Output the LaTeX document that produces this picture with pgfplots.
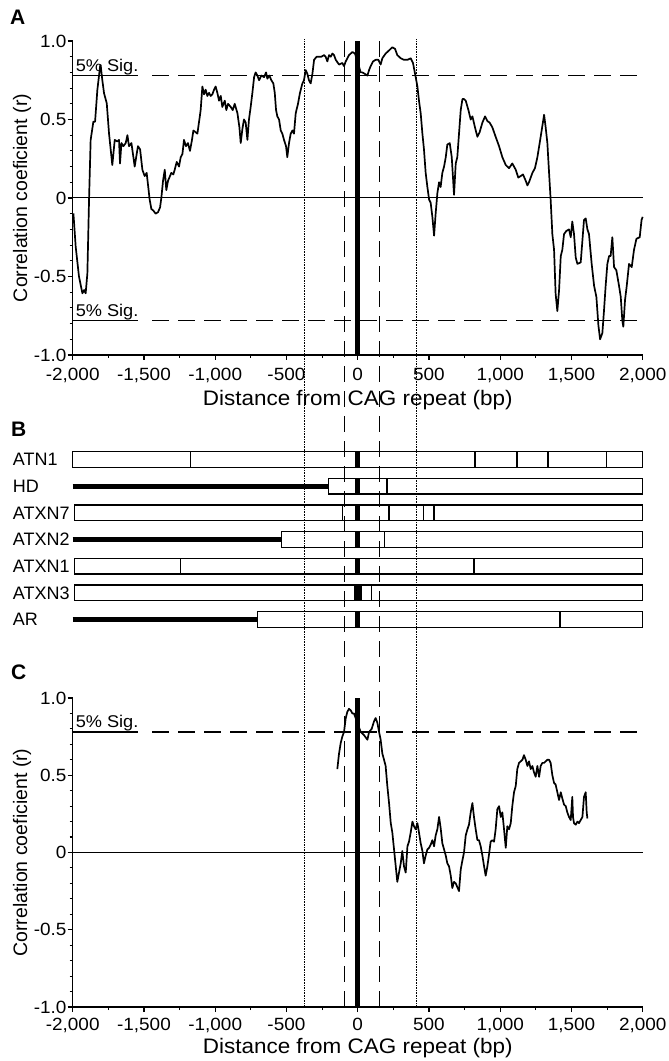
\documentclass[border=0pt]{standalone}
\usepackage{fontspec}
\setmainfont{Liberation Sans}
\newfontfamily\hfont{Liberation Sans}[FakeStretch=1.07]
\usepackage{pgfplots}
\pgfplotsset{compat=1.18}
\tikzset{siglab/.style={anchor=base west, inner sep=0pt, font=\hfont\fontsize{17}{17}\selectfont, yshift=4pt}}
\begin{document}
\begin{tikzpicture}[x=1pt,y=1pt]
\useasboundingbox (0pt,0pt) rectangle (669pt,1061pt);
\pgfplotsset{
  corr/.style={
    width=570pt, scale only axis, xmin=-2000, xmax=2000, ymin=-1, ymax=1,
    axis x line*=bottom, axis y line*=left, clip=false,
    xtick={-2000,-1500,...,2000},
    xticklabels={{-2,000},{-1,500},{-1,000},{-500},{0},{500},{1,000},{1,500},{2,000}},
    ytick={-1,-0.5,0,0.5,1}, yticklabels={{-1.0},{-0.5},{0},{0.5},{1.0}},
    minor x tick num=1, minor y tick num=4,
    tick align=outside, major tick length=5pt, minor tick length=3pt,
    every tick/.style={line width=1.1pt, black},
    axis line style={line width=1.3pt},
    ticklabel style={font=\hfont\fontsize{17.7}{17.7}\selectfont, inner sep=1pt},
    xlabel style={font=\hfont\fontsize{21}{21}\selectfont},
    ylabel style={font=\fontsize{19.5}{19.5}\selectfont},
    xlabel={Distance from CAG repeat (bp)},
    ylabel={Correlation coeficient (r)},
    ylabel style={at={(axis description cs:-0.089,0.5)}, anchor=center},
  },
  sig/.style={line width=1.2pt, dash pattern=on 17pt off 9pt},
  curve/.style={line width=1.7pt, black, line join=round},
  box/.style={line width=1.3pt, black},
}

% ---------------- Panel A ----------------
\begin{axis}[corr, at={(72.7pt,706pt)}, anchor=south west, height=314pt,
  xticklabel style={yshift=-6.5pt},
  xlabel style={at={(axis description cs:0.5,-0.143)}, anchor=center}]
\addplot[line width=1pt] coordinates {(-2000,0) (2000,0)};
\addplot[line width=1.2pt] coordinates {(-2000,0.78) (-1540,0.78)};
\addplot[sig] coordinates {(-1441,0.78) (2000,0.78)};
\addplot[line width=1.2pt] coordinates {(-2000,-0.78) (-1540,-0.78)};
\addplot[sig] coordinates {(-1441,-0.78) (2000,-0.78)};
\addplot[line width=5pt] coordinates {(0,-1) (0,1)};
\node[siglab] at (axis cs:-1980,0.78) {5\% Sig.};
\node[siglab] at (axis cs:-1980,-0.78) {5\% Sig.};
\addplot[curve] coordinates {
(-1995,-0.098) (-1979,-0.31) (-1956,-0.50) (-1932,-0.607) (-1920,-0.586) (-1909,-0.607)
(-1897,-0.48) (-1885,0.00) (-1874,0.37) (-1855,0.486) (-1843,0.486) (-1827,0.688)
(-1808,0.837) (-1804,0.847) (-1792,0.75) (-1780,0.667) (-1761,0.603) (-1745,0.41)
(-1722,0.21) (-1705,0.37) (-1687,0.36) (-1675,0.37) (-1668,0.22) (-1658,0.35)
(-1644,0.33) (-1628,0.35) (-1616,0.40) (-1605,0.33) (-1588,0.35) (-1574,0.26)
(-1565,0.20) (-1551,0.28) (-1542,0.33) (-1527,0.31) (-1511,0.18) (-1495,0.14)
(-1481,0.16) (-1471,0.08) (-1460,-0.01) (-1448,-0.07) (-1434,-0.08) (-1418,-0.10)
(-1401,-0.09) (-1387,-0.06) (-1378,0.00) (-1366,0.11) (-1354,0.18) (-1343,0.05)
(-1331,0.11) (-1317,0.14) (-1308,0.16) (-1294,0.15) (-1284,0.18) (-1270,0.23)
(-1254,0.20) (-1242,0.26) (-1230,0.28) (-1219,0.37) (-1205,0.33) (-1191,0.35)
(-1177,0.30) (-1163,0.37) (-1153,0.43) (-1139,0.42) (-1125,0.41) (-1111,0.50)
(-1102,0.56) (-1090,0.71) (-1078,0.66) (-1067,0.69) (-1055,0.65) (-1043,0.67)
(-1032,0.65) (-1020,0.66) (-1008,0.69) (-997,0.71) (-985,0.67) (-973,0.62)
(-961,0.65) (-950,0.58) (-933,0.62) (-922,0.56) (-910,0.60) (-891,0.58)
(-877,0.56) (-863,0.60) (-844,0.54) (-830,0.45) (-821,0.35) (-809,0.44)
(-798,0.50) (-786,0.48) (-774,0.37) (-763,0.50) (-751,0.58) (-739,0.67)
(-727,0.77) (-716,0.80) (-704,0.78) (-692,0.75) (-676,0.78) (-657,0.77)
(-643,0.80) (-634,0.76) (-620,0.78) (-606,0.75) (-592,0.73) (-582,0.67)
(-573,0.56) (-564,0.52) (-552,0.50) (-540,0.43) (-529,0.41) (-517,0.37)
(-503,0.33) (-494,0.26) (-482,0.35) (-470,0.41) (-458,0.43) (-447,0.41)
(-435,0.54) (-419,0.60) (-405,0.67) (-388,0.73) (-377,0.75) (-365,0.815)
(-353,0.79) (-342,0.75) (-330,0.73) (-318,0.79) (-306,0.88) (-288,0.90)
(-271,0.90) (-255,0.90) (-236,0.91) (-225,0.90) (-213,0.87) (-201,0.91)
(-189,0.90) (-178,0.92) (-166,0.91) (-154,0.88) (-131,0.85) (-108,0.86)
(-96,0.84) (-84,0.87) (-61,0.91) (-37,0.93) (-19,0.92) (21,0.80)
(33,0.80) (68,0.78) (80,0.815) (91,0.84) (108,0.87) (126,0.88)
(145,0.88) (161,0.85) (173,0.89) (196,0.92) (220,0.94) (243,0.96)
(262,0.95) (278,0.91) (302,0.89) (325,0.88) (349,0.88) (372,0.89)
(388,0.86) (407,0.77) (419,0.71) (430,0.62) (442,0.54) (454,0.41)
(465,0.31) (477,0.16) (489,0.07) (501,-0.01) (512,-0.03) (524,-0.12)
(536,-0.24) (547,-0.10) (559,0.03) (571,0.10) (582,0.07) (594,0.16)
(606,0.20) (618,0.26) (629,0.34) (646,0.35) (660,0.26) (676,0.02)
(688,0.22) (699,0.26) (711,0.41) (723,0.56) (735,0.63) (746,0.63)
(758,0.62) (777,0.56) (793,0.50) (805,0.52) (823,0.45) (840,0.39)
(856,0.42) (875,0.48) (894,0.52) (910,0.49) (926,0.48) (945,0.45)
(968,0.39) (992,0.33) (1015,0.26) (1039,0.21) (1062,0.19) (1085,0.22)
(1109,0.18) (1127,0.13) (1144,0.14) (1160,0.15) (1179,0.11) (1191,0.08)
(1202,0.10) (1226,0.16) (1244,0.19) (1261,0.26) (1277,0.35) (1291,0.43)
(1308,0.53) (1319,0.45) (1331,0.35) (1343,0.16) (1354,-0.01) (1366,-0.23)
(1378,-0.33) (1389,-0.61) (1401,-0.72) (1413,-0.59) (1425,-0.37) (1436,-0.33)
(1448,-0.23) (1464,-0.21) (1483,-0.20) (1495,-0.25) (1506,-0.15) (1518,-0.23)
(1530,-0.38) (1542,-0.42) (1565,-0.41) (1577,-0.27) (1588,-0.14) (1600,-0.13)
(1612,-0.20) (1623,-0.23) (1642,-0.42) (1659,-0.56) (1675,-0.63) (1689,-0.81)
(1701,-0.90) (1717,-0.86) (1729,-0.71) (1740,-0.56) (1752,-0.42) (1764,-0.37)
(1775,-0.37) (1787,-0.25) (1799,-0.44) (1815,-0.46) (1834,-0.56) (1846,-0.63)
(1857,-0.78) (1864,-0.82) (1876,-0.65) (1888,-0.56) (1904,-0.42) (1923,-0.44)
(1939,-0.33) (1956,-0.26) (1979,-0.25) (1992,-0.14) (2000,-0.12)
};
\end{axis}

% ---------------- Panel B ----------------
\begin{axis}[at={(72.7pt,414.8pt)}, anchor=south west, width=570pt, height=213.36pt,
  scale only axis, hide axis, clip=false, xmin=-2000, xmax=2000, ymin=0, ymax=8,
  unbounded coords=jump]
% ATN1 (y=7)
\addplot[box] coordinates {(-2000,6.71) (2000,6.71) (2000,7.29) (-2000,7.29)} -- cycle;
\addplot[box] coordinates {(-1174,6.71) (-1174,7.29) (-1174,nan) (823,6.71) (823,7.29) (823,nan)
  (1118,6.71) (1118,7.29) (1118,nan) (1336,6.71) (1336,7.29) (1336,nan) (1744,6.71) (1744,7.29)};
\addplot[line width=5pt] coordinates {(0,6.71) (0,7.29)};
% HD (y=6)
\addplot[line width=5pt] coordinates {(-2000,6) (-204,6)};
\addplot[box] coordinates {(-204,5.71) (2000,5.71) (2000,6.29) (-204,6.29)} -- cycle;
\addplot[box] coordinates {(205,5.71) (205,6.29)};
\addplot[line width=5pt] coordinates {(0,5.71) (0,6.29)};
% ATXN7 (y=5)
\addplot[box] coordinates {(-1985,4.71) (2000,4.71) (2000,5.29) (-1985,5.29)} -- cycle;
\addplot[box] coordinates {(-105,4.71) (-105,5.29) (-105,nan) (220,4.71) (220,5.29) (220,nan)
  (460,4.71) (460,5.29) (460,nan) (535,4.71) (535,5.29)};
\addplot[line width=5pt] coordinates {(0,4.71) (0,5.29)};
% ATXN2 (y=4)
\addplot[line width=5pt] coordinates {(-2000,4) (-534,4)};
\addplot[box] coordinates {(-534,3.71) (2000,3.71) (2000,4.29) (-534,4.29)} -- cycle;
\addplot[box] coordinates {(190,3.71) (190,4.29)};
\addplot[line width=5pt] coordinates {(0,3.71) (0,4.29)};
% ATXN1 (y=3)
\addplot[box] coordinates {(-1985,2.71) (2000,2.71) (2000,3.29) (-1985,3.29)} -- cycle;
\addplot[box] coordinates {(-1245,2.71) (-1245,3.29) (-1245,nan) (816,2.71) (816,3.29)};
\addplot[line width=5pt] coordinates {(0,2.71) (0,3.29)};
% ATXN3 (y=2)
\addplot[box] coordinates {(-1985,1.71) (2000,1.71) (2000,2.29) (-1985,2.29)} -- cycle;
\addplot[box] coordinates {(95,1.71) (95,2.29)};
\addplot[line width=8pt] coordinates {(0,1.71) (0,2.29)};
% AR (y=1)
\addplot[line width=5pt] coordinates {(-2000,1) (-703,1)};
\addplot[box] coordinates {(-703,0.71) (2000,0.71) (2000,1.29) (-703,1.29)} -- cycle;
\addplot[box] coordinates {(1420,0.71) (1420,1.29)};
\addplot[line width=5pt] coordinates {(0,0.71) (0,1.29)};
\foreach \g/\yy in {ATN1/7,HD/6,ATXN7/5,ATXN2/4,ATXN1/3,ATXN3/2,AR/1}{
  \edef\temp{\noexpand\node[anchor=west, inner sep=0pt, font=\noexpand\fontsize{18}{18}\noexpand\selectfont] at (axis cs:-2000,\yy) [xshift=-60pt] {\g};}
  \temp
}
\end{axis}

% ---------------- Panel C ----------------
\begin{axis}[corr, at={(72.7pt,54pt)}, anchor=south west, height=309pt,
  xticklabel style={yshift=-5pt},
  xlabel style={at={(axis description cs:0.5,-0.132)}, anchor=center}]
\addplot[line width=1pt] coordinates {(-2000,0) (2000,0)};
\addplot[line width=1.2pt] coordinates {(-2000,0.78) (-1540,0.78)};
\addplot[sig] coordinates {(-1441,0.78) (2000,0.78)};
\addplot[line width=5pt] coordinates {(0,-1) (0,1)};
\node[siglab] at (axis cs:-1980,0.78) {5\% Sig.};
\addplot[curve] coordinates {
(-143,0.54) (-131,0.64) (-119,0.71) (-108,0.75) (-96,0.78) (-84,0.87)
(-73,0.91) (-61,0.93) (-49,0.92) (-37,0.90) (-26,0.90) (21,0.78)
(44,0.76) (68,0.73) (80,0.78) (98,0.80) (115,0.85) (126,0.87)
(138,0.84) (150,0.78) (161,0.73) (173,0.64) (185,0.60) (196,0.56)
(208,0.43) (220,0.32) (232,0.19) (243,0.13) (255,0.02) (267,-0.09)
(278,-0.19) (290,-0.13) (302,-0.07) (313,0.01) (325,-0.09) (337,-0.13)
(349,0.04) (360,0.07) (372,0.13) (384,0.20) (395,0.17) (407,0.15)
(419,0.19) (430,0.13) (442,0.06) (454,0.01) (465,-0.07) (477,-0.02)
(489,0.02) (501,0.03) (512,0.05) (524,0.08) (536,0.04) (547,0.11)
(559,0.15) (571,0.23) (582,0.16) (594,0.06) (606,0.02) (618,-0.02)
(629,-0.07) (641,-0.09) (653,-0.15) (664,-0.23) (676,-0.19) (688,-0.20)
(711,-0.25) (723,-0.11) (735,-0.05) (746,0.00) (758,0.11) (770,0.15)
(781,0.18) (793,0.26) (805,0.32) (816,0.23) (828,0.15) (840,0.08)
(851,0.08) (863,0.04) (875,-0.02) (887,-0.09) (898,-0.15) (910,-0.09)
(922,-0.01) (933,0.07) (945,0.08) (957,0.07) (968,0.15) (980,0.28)
(992,0.30) (1004,0.23) (1015,0.26) (1027,0.15) (1039,0.03) (1050,0.17)
(1062,0.15) (1074,0.19) (1085,0.30) (1097,0.39) (1109,0.43) (1120,0.54)
(1132,0.58) (1144,0.59) (1156,0.60) (1167,0.63) (1179,0.60) (1191,0.56)
(1202,0.59) (1214,0.54) (1226,0.56) (1237,0.52) (1249,0.49) (1261,0.56)
(1273,0.49) (1284,0.56) (1296,0.58) (1308,0.58) (1319,0.59) (1331,0.60)
(1343,0.60) (1354,0.58) (1366,0.50) (1378,0.45) (1389,0.44) (1401,0.39)
(1413,0.34) (1425,0.39) (1436,0.35) (1448,0.31) (1460,0.30) (1471,0.26)
(1483,0.23) (1495,0.21) (1506,0.36) (1511,0.23) (1518,0.19) (1530,0.18)
(1542,0.20) (1553,0.19) (1565,0.21) (1577,0.23) (1588,0.36) (1600,0.39)
(1607,0.26) (1612,0.22)
};
\end{axis}

% ---------------- Vertical guide lines through all panels ----------------
\begin{axis}[at={(72.7pt,54pt)}, anchor=south west, width=570pt, height=968pt,
  scale only axis, hide axis, clip=false, xmin=-2000, xmax=2000, ymin=0, ymax=1]
\addplot[line width=0.9pt, dash pattern=on 1.6pt off 1pt] coordinates {(-373,0) (-373,1)};
\addplot[line width=0.9pt, dash pattern=on 1.6pt off 1pt] coordinates {(415,0) (415,1)};
\addplot[line width=1.2pt, dash pattern=on 16pt off 9pt] coordinates {(-91,0) (-91,0.998)};
\addplot[line width=1.2pt, dash pattern=on 16pt off 9pt] coordinates {(155,0) (155,0.998)};
\end{axis}

\node[anchor=base west, inner sep=0pt, font=\bfseries\fontsize{21}{21}\selectfont] at (10pt,1036pt) {A};
\node[anchor=base west, inner sep=0pt, font=\bfseries\fontsize{21}{21}\selectfont] at (11pt,624pt) {B};
\node[anchor=base west, inner sep=0pt, font=\bfseries\fontsize{21}{21}\selectfont] at (11pt,381pt) {C};
\end{tikzpicture}
\end{document}
